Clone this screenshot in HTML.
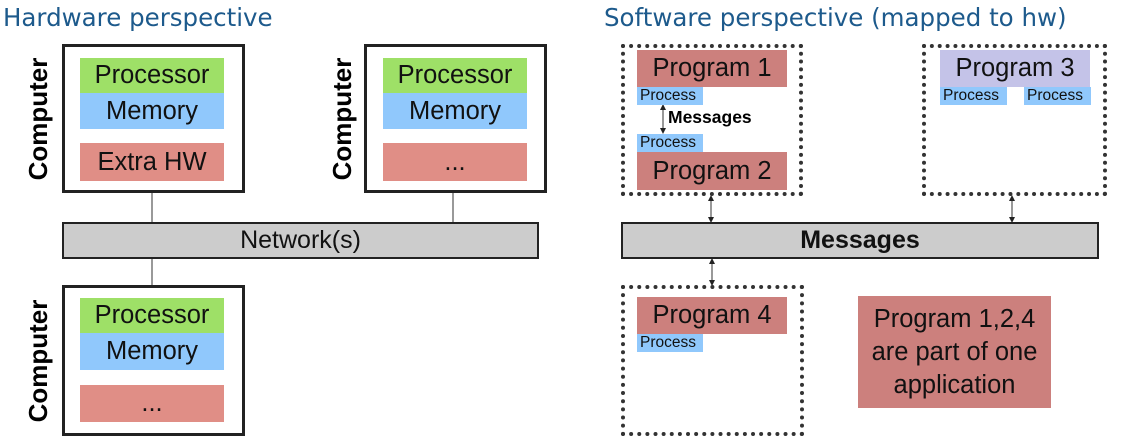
<!DOCTYPE html>
<html><head><meta charset="utf-8"><style>
body{margin:0;width:1135px;height:448px;background:#fff;position:relative;overflow:hidden;font-family:"Liberation Sans",sans-serif}
div{position:absolute;box-sizing:border-box}
.t{display:flex;align-items:center;justify-content:center;color:#111;font-size:25.5px}
.box{border:3px solid #222}
.dot{border:4px dotted #333}
.g{background:#9ee067}.b{background:#90c8fc}.r{background:#e08e86}.p{background:#cc807d}.l{background:#c4c3e8}
.pr{background:#90c8fc;font-size:15.5px;color:#111;display:flex;align-items:center;padding-left:3px}
.comp{font-weight:bold;font-size:26px;transform:rotate(-90deg);width:160px;height:30px;display:flex;align-items:center;justify-content:center}
.bar{background:#cccccc;border:2px solid #222}
.ti{font-family:"DejaVu Sans",sans-serif;font-size:24.5px;color:#1d5a8c;white-space:nowrap}
</style></head><body>
<div class="ti" style="left:3px;top:3px">Hardware perspective</div>
<div class="ti" style="left:604px;top:3px">Software perspective (mapped to hw)</div>
<svg style="position:absolute;left:0;top:0" width="1135" height="448">
<defs><marker id="a" markerWidth="6" markerHeight="6" refX="3" refY="3" orient="auto-start-reverse"><path d="M0,0L6,3L0,6z" fill="#222"/></marker></defs>
<g stroke="#333" stroke-width="1">
<line x1="152" y1="192" x2="152" y2="222"/><line x1="453" y1="192" x2="453" y2="222"/><line x1="152" y1="258" x2="152" y2="285"/>
<line x1="711" y1="198" x2="711" y2="220" marker-start="url(#a)" marker-end="url(#a)"/>
<line x1="1012" y1="198" x2="1012" y2="220" marker-start="url(#a)" marker-end="url(#a)"/>
<line x1="712" y1="261" x2="712" y2="283" marker-start="url(#a)" marker-end="url(#a)"/>
<line x1="663" y1="107" x2="663" y2="131" marker-start="url(#a)" marker-end="url(#a)"/>
</g></svg>
<div class="box" style="left:62px;top:44px;width:183px;height:149px"></div>
<div class="t g" style="left:80px;top:58px;width:144px;height:35px">Processor</div>
<div class="t b" style="left:80px;top:93px;width:144px;height:36px">Memory</div>
<div class="t r" style="left:80px;top:143px;width:144px;height:38px">Extra HW</div>
<div class="comp" style="left:-42px;top:104px">Computer</div>
<div class="box" style="left:364px;top:44px;width:183px;height:149px"></div>
<div class="t g" style="left:383px;top:58px;width:144px;height:35px">Processor</div>
<div class="t b" style="left:383px;top:93px;width:144px;height:36px">Memory</div>
<div class="t r" style="left:383px;top:143px;width:144px;height:38px">...</div>
<div class="comp" style="left:262px;top:104px">Computer</div>
<div class="t bar" style="left:62px;top:222px;width:477px;height:37px;font-size:25px">Network(s)</div>
<div class="box" style="left:62px;top:285px;width:183px;height:151px"></div>
<div class="t g" style="left:80px;top:298px;width:144px;height:35px">Processor</div>
<div class="t b" style="left:80px;top:333px;width:144px;height:37px">Memory</div>
<div class="t r" style="left:80px;top:385px;width:144px;height:37px">...</div>
<div class="comp" style="left:-42px;top:346px">Computer</div>

<div class="dot" style="left:621px;top:44px;width:182px;height:152px"></div>
<div class="t p" style="left:637px;top:50px;width:150px;height:37px">Program 1</div>
<div class="pr" style="left:637px;top:87px;width:66px;height:18px">Process</div>
<div style="left:668px;top:107px;font-size:17.5px;font-weight:bold">Messages</div>
<div class="pr" style="left:637px;top:134px;width:66px;height:18px">Process</div>
<div class="t p" style="left:637px;top:152px;width:150px;height:38px">Program 2</div>
<div class="dot" style="left:922px;top:44px;width:185px;height:152px"></div>
<div class="t l" style="left:940px;top:50px;width:150px;height:37px">Program 3</div>
<div class="pr" style="left:940px;top:87px;width:67px;height:18px">Process</div>
<div class="pr" style="left:1024px;top:87px;width:67px;height:18px">Process</div>
<div class="t bar" style="left:621px;top:222px;width:478px;height:37px;font-size:25px;font-weight:bold">Messages</div>
<div class="dot" style="left:621px;top:285px;width:183px;height:151px"></div>
<div class="t p" style="left:637px;top:297px;width:150px;height:37px">Program 4</div>
<div class="pr" style="left:637px;top:334px;width:66px;height:18px">Process</div>
<div class="t p" style="left:858px;top:296px;width:193px;height:112px;text-align:center;line-height:33px">Program 1,2,4<br>are part of one<br>application</div>
</body></html>
